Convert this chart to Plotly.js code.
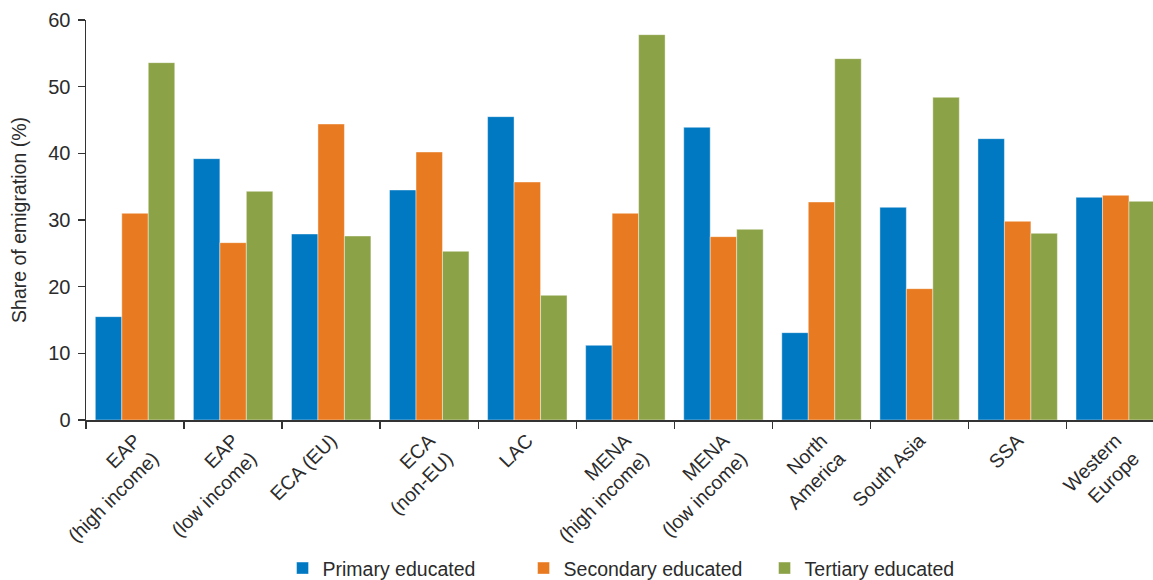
<!DOCTYPE html>
<html>
<head>
<meta charset="utf-8">
<script src="https://cdn.plot.ly/plotly-3.0.1.min.js"></script>
<style>html,body{margin:0;padding:0;background:#fff;}#chart{width:1153px;height:580px;}</style>
</head>
<body>
<div id="chart"></div>
<script>
const categories = [
  "EAP<br>(high income)", "EAP<br>(low income)", "ECA (EU)", "ECA<br>(non-EU)", "LAC",
  "MENA<br>(high income)", "MENA<br>(low income)", "North<br>America", "South Asia", "SSA",
  "Western<br>Europe"
];
const seriesNames = ["Primary educated", "Secondary educated", "Tertiary educated"];
const primary   = [15.5, 39.2, 27.9, 34.5, 45.5, 11.2, 43.9, 13.1, 31.9, 42.2, 33.4];
const secondary = [31.0, 26.6, 44.4, 40.2, 35.7, 31.0, 27.5, 32.7, 19.7, 29.8, 33.7];
const tertiary  = [53.6, 34.3, 27.6, 25.3, 18.7, 57.8, 28.6, 54.2, 48.4, 28.0, 32.8];
const colors = ["#0079C2", "#E87B21", "#8CA247"];
const yTicks = [0, 10, 20, 30, 40, 50, 60];

const FONT = "Liberation Sans, Arial, sans-serif";
const TXT = "#2b2b2b";
const values = [primary, secondary, tertiary];
const traces = values.map((v, i) => ({
  type: "bar",
  name: seriesNames[i],
  x: categories,
  y: v,
  marker: {color: colors[i], line: {color: "rgba(255,255,255,0.7)", width: 0.6}},
  hoverinfo: "skip"
}));

const layout = {
  width: 1153, height: 580,
  margin: {l: 86, r: 0, t: 20, b: 160},
  paper_bgcolor: "#fff", plot_bgcolor: "#fff",
  font: {family: FONT, size: 19, color: TXT},
  barmode: "group", bargap: 0.19, bargroupgap: 0,
  showlegend: true,
  legend: {
    orientation: "h", x: 0.523, xanchor: "center", xref: "paper",
    yref: "container", y: 0.02, yanchor: "middle",
    font: {family: FONT, size: 19.5, color: TXT},
    entrywidth: 196, traceorder: "normal"
  },
  xaxis: {
    type: "category",
    range: [-0.5, 10.38],
    showline: true, linecolor: "#333", linewidth: 1.5,
    ticks: "outside", tickson: "boundaries", ticklen: 7, tickcolor: "#333", tickwidth: 1.5,
    tickangle: -45,
    tickfont: {family: FONT, size: 19.5, color: TXT},
    showgrid: false, zeroline: false, fixedrange: true
  },
  yaxis: {
    range: [0, 60],
    tickvals: yTicks,
    showline: true, linecolor: "#333", linewidth: 1.5,
    ticks: "outside", ticklen: 7, tickcolor: "#333", tickwidth: 1.5,
    ticklabelstandoff: 3,
    tickfont: {family: FONT, size: 20, color: TXT},
    showgrid: false, zeroline: false, fixedrange: true,
    title: {text: "Share of emigration (%)", font: {family: FONT, size: 19.5, color: TXT}, standoff: 16}
  }
};

Plotly.newPlot("chart", traces, layout, {displayModeBar: false, staticPlot: true});
</script>
</body>
</html>
